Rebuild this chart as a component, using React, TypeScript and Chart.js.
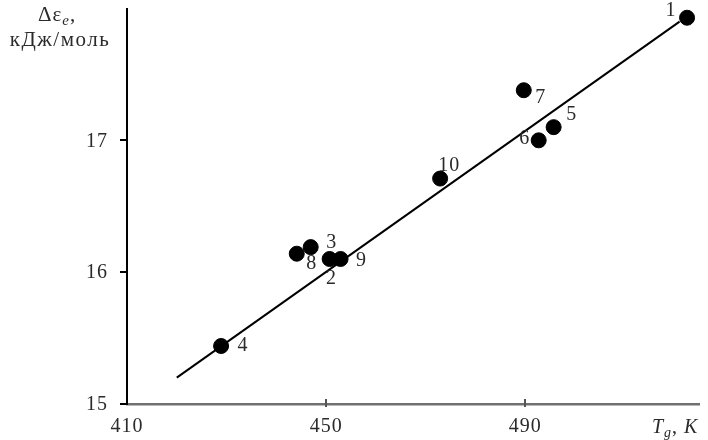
import React, { useEffect, useRef } from "react";
import { Chart, registerables } from "chart.js";

Chart.register(...registerables);

// ---- data ----
const pointIds = ["1", "2", "3", "4", "5", "6", "7", "8", "9", "10"];
const tgValues = [522.5, 450.7, 446.9, 428.9, 495.7, 492.7, 489.7, 444.1, 452.9, 472.9];
const deltaE = [17.93, 16.1, 16.19, 15.44, 17.1, 17.0, 17.38, 16.14, 16.1, 16.71];
const fitX = [420, 521];
const fitY = [15.2, 17.9];
const xTicks = [410, 450, 490];
const yTicks = [15, 16, 17];
const xRange = [410, 525];
const yRange = [15, 18];

// label placement (pixel offsets from the marker centre) – styling only
const labelOffsets: [number, number][] = [
  [-16, -7], [2, 20], [21, -4], [22, 0], [18, -12],
  [-14, -2], [17, 8], [15, 10], [21, 2], [9, -13],
];

const FONT = "'Liberation Serif', 'Times New Roman', serif";
const TXT = "#2a2a2a";

const annotate = {
  id: "annotate",
  afterDraw(chart: any) {
    const ctx = chart.ctx;
    const xs = chart.scales.x;
    const ys = chart.scales.y;
    const { left, bottom } = chart.chartArea;
    ctx.save();
    (ctx as any).letterSpacing = "1px";
    // x ticks (crossing the axis)
    ctx.strokeStyle = "#555";
    ctx.lineWidth = 2;
    xTicks.forEach((v) => {
      if (v === xRange[0]) return;
      const px = Math.round(xs.getPixelForValue(v));
      ctx.beginPath();
      ctx.moveTo(px, bottom + 3);
      ctx.lineTo(px, bottom - 5);
      ctx.stroke();
    });
    // y ticks (outside)
    ctx.strokeStyle = "#000";
    yTicks.forEach((v) => {
      const py = Math.round(ys.getPixelForValue(v));
      ctx.beginPath();
      ctx.moveTo(left - 7, py);
      ctx.lineTo(left, py);
      ctx.stroke();
    });
    ctx.fillStyle = TXT;
    ctx.font = `20px ${FONT}`;
    ctx.textBaseline = "middle";
    // x tick labels
    ctx.textAlign = "center";
    xTicks.forEach((v) => {
      ctx.fillText(String(v), xs.getPixelForValue(v), bottom + 23);
    });
    // y tick labels
    ctx.textAlign = "right";
    yTicks.forEach((v) => {
      ctx.fillText(String(v), left - 19, ys.getPixelForValue(v) + 1);
    });
    // x axis title: T_g, K
    ctx.textAlign = "left";
    ctx.textBaseline = "alphabetic";
    let x = 652;
    const base = 433;
    ctx.font = `italic 20px ${FONT}`;
    ctx.fillText("T", x, base);
    x += ctx.measureText("T").width;
    ctx.font = `italic 14px ${FONT}`;
    ctx.fillText("g", x, base + 4);
    x += ctx.measureText("g").width;
    ctx.font = `20px ${FONT}`;
    ctx.fillText(", ", x, base);
    x += ctx.measureText(", ").width;
    ctx.font = `italic 20px ${FONT}`;
    ctx.fillText("K", x, base);
    // y axis title
    ctx.font = `21px ${FONT}`;
    let yx = 38;
    const yb = 21;
    ctx.fillText("\u0394\u03b5", yx, yb);
    yx += ctx.measureText("\u0394\u03b5").width;
    ctx.font = `italic 15px ${FONT}`;
    ctx.fillText("e", yx, yb + 4);
    yx += ctx.measureText("e").width;
    ctx.font = `21px ${FONT}`;
    ctx.fillText(",", yx, yb);
    ctx.textAlign = "center";
    (ctx as any).letterSpacing = "1.5px";
    ctx.fillText("\u043a\u0414\u0436/\u043c\u043e\u043b\u044c", 60, 46);
    (ctx as any).letterSpacing = "1px";
    // point labels
    ctx.font = `20px ${FONT}`;
    ctx.textBaseline = "middle";
    const meta = chart.getDatasetMeta(0);
    meta.data.forEach((el: any, i: number) => {
      const [dx, dy] = labelOffsets[i];
      ctx.fillText(pointIds[i], el.x + dx, el.y + dy);
    });
    ctx.restore();
  },
};

export default function App() {
  const ref = useRef<HTMLCanvasElement>(null);
  useEffect(() => {
    if (!ref.current) return;
    const chart = new Chart(ref.current, {
      type: "scatter",
      data: {
        datasets: [
          {
            label: "points",
            data: tgValues.map((v, i) => ({ x: v, y: deltaE[i] })),
            backgroundColor: "#000",
            borderColor: "#000",
            pointRadius: 7.5,
            pointHoverRadius: 7.5,
            order: 0,
          },
          {
            label: "fit",
            data: fitX.map((v, i) => ({ x: v, y: fitY[i] })),
            showLine: true,
            borderColor: "#000",
            borderWidth: 2,
            pointRadius: 0,
            order: 1,
          },
        ],
      },
      options: {
        responsive: false,
        animation: false,
        layout: { padding: { top: 4, right: 6, left: 0, bottom: 0 } },
        plugins: { legend: { display: false }, tooltip: { enabled: false } },
        scales: {
          x: {
            type: "linear",
            min: xRange[0],
            max: xRange[1],
            afterBuildTicks: (s: any) => {
              s.ticks = xTicks.map((v) => ({ value: v }));
            },
            afterFit: (s: any) => {
              s.height = 36;
              s.paddingLeft = 0;
              s.paddingRight = 0;
            },
            grid: { display: false },
            border: { display: true, color: "#707070", width: 2.5 },
            ticks: { display: false },
          },
          y: {
            type: "linear",
            min: yRange[0],
            max: yRange[1],
            afterBuildTicks: (s: any) => {
              s.ticks = yTicks.map((v) => ({ value: v }));
            },
            afterFit: (s: any) => {
              s.width = 127;
              s.paddingTop = 0;
              s.paddingBottom = 0;
            },
            grid: { display: false },
            border: { display: true, color: "#000", width: 2 },
            ticks: { display: false },
          },
        },
      },
      plugins: [annotate],
    });
    return () => chart.destroy();
  }, []);
  return (
    <div style={{ position: "absolute", left: 0, top: 0, width: 708, height: 440, background: "#fff" }}>
      <canvas ref={ref} width={708} height={440} style={{ display: "block" }} />
    </div>
  );
}
